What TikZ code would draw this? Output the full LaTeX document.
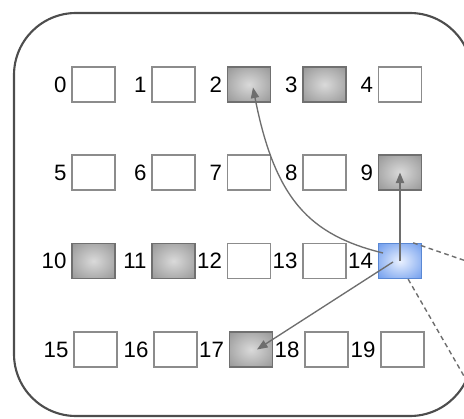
\documentclass[tikz,border=0pt]{standalone}
\usepackage{fontspec}
\setmainfont{Liberation Sans}
\usetikzlibrary{arrows.meta, calc}
\definecolor{framegrey}{HTML}{4D4D4D}
\definecolor{cellline}{HTML}{8C8C8C}
\definecolor{busyline}{HTML}{707070}
\definecolor{busyout}{HTML}{8E8E8E}
\definecolor{busyin}{HTML}{DADADA}
\definecolor{selfline}{HTML}{5A88D4}
\definecolor{selfout}{HTML}{74A0EE}
\definecolor{selfin}{HTML}{EAF1FF}
\definecolor{linkgrey}{HTML}{6E6E6E}
\pgfdeclareradialshading{busyglow}{\pgfpoint{0bp}{0bp}}{color(0bp)=(busyin); color(40bp)=(busyout); color(80bp)=(busyout)}
\pgfdeclareradialshading{selfglow}{\pgfpoint{0bp}{0bp}}{color(0bp)=(selfin); color(34bp)=(selfout); color(80bp)=(selfout)}

\begin{document}
\begin{tikzpicture}[x=0.03cm, y=-0.03cm,
    cell/.style={draw=cellline, line width=1.1pt, fill=white, inner sep=0pt,
                 minimum width=1.29cm, minimum height=1.05cm},
    busy/.style={cell, draw=busyline, shade, shading=busyglow},
    self/.style={cell, draw=selfline, shade, shading=selfglow},
    lbl/.style={font=\fontsize{19}{22}\selectfont, inner sep=1pt},
    every label/.style={lbl}, label distance=3pt,
    link/.style={-{Triangle[length=9pt, width=7pt]}, draw=linkgrey, line width=1.15pt},
    probe/.style={draw=linkgrey, line width=1.2pt, dash pattern=on 4pt off 3pt}]
    \clip (0,0) rectangle (464,419);
    \draw[draw=framegrey, line width=1.8pt, rounded corners=1.86cm] (14,13) rectangle (472,416);

    % row 0
    \node[cell, label=left:0] (n0) at (93.5,84.5) {};
    \node[cell, label=left:1] (n1) at (173.5,84.5) {};
    \node[busy, label=left:2] (n2) at (249,84.5) {};
    \node[busy, label=left:3] (n3) at (324.5,84.5) {};
    \node[cell, label=left:4] (n4) at (400,84.5) {};
    % row 1
    \node[cell, label=left:5] (n5) at (93.5,172.5) {};
    \node[cell, label=left:6] (n6) at (173.5,172.5) {};
    \node[cell, label=left:7] (n7) at (249,172.5) {};
    \node[cell, label=left:8] (n8) at (324.5,172.5) {};
    \node[busy, label=left:9] (n9) at (400,172.5) {};
    % row 2
    \node[busy, label=left:10] (n10) at (93.5,261) {};
    \node[busy, label=left:11] (n11) at (173.5,261) {};
    \node[cell, label=left:12] (n12) at (249,261) {};
    \node[cell, label=left:13] (n13) at (324.5,261) {};
    \node[self, label=left:14] (n14) at (400,261) {};
    % row 3
    \node[cell, label=left:15] (n15) at (95.5,349.5) {};
    \node[cell, label=left:16] (n16) at (175.5,349.5) {};
    \node[busy, label=left:17] (n17) at (251,349.5) {};
    \node[cell, label=left:18] (n18) at (326.5,349.5) {};
    \node[cell, label=left:19] (n19) at (402.5,349.5) {};

    \coordinate (outA) at (472,263);
    \coordinate (outB) at (472,390);

    \draw[link] (n14.center) -- (n9.center);
    \draw[link] ($(n14.center)+(-7,1)$) -- ($(n17.center)+(6,0)$);
    \draw[link] ($(n14.center)+(-17,-8)$) .. controls (310,235) and (275,200) .. ($(n2.center)+(4,3)$);
    \draw[probe] ($(n14.north east)+(-9,0)$) -- (outA);
    \draw[probe] ($(n14.south east)+(-14,0)$) -- (outB);
\end{tikzpicture}
\end{document}
